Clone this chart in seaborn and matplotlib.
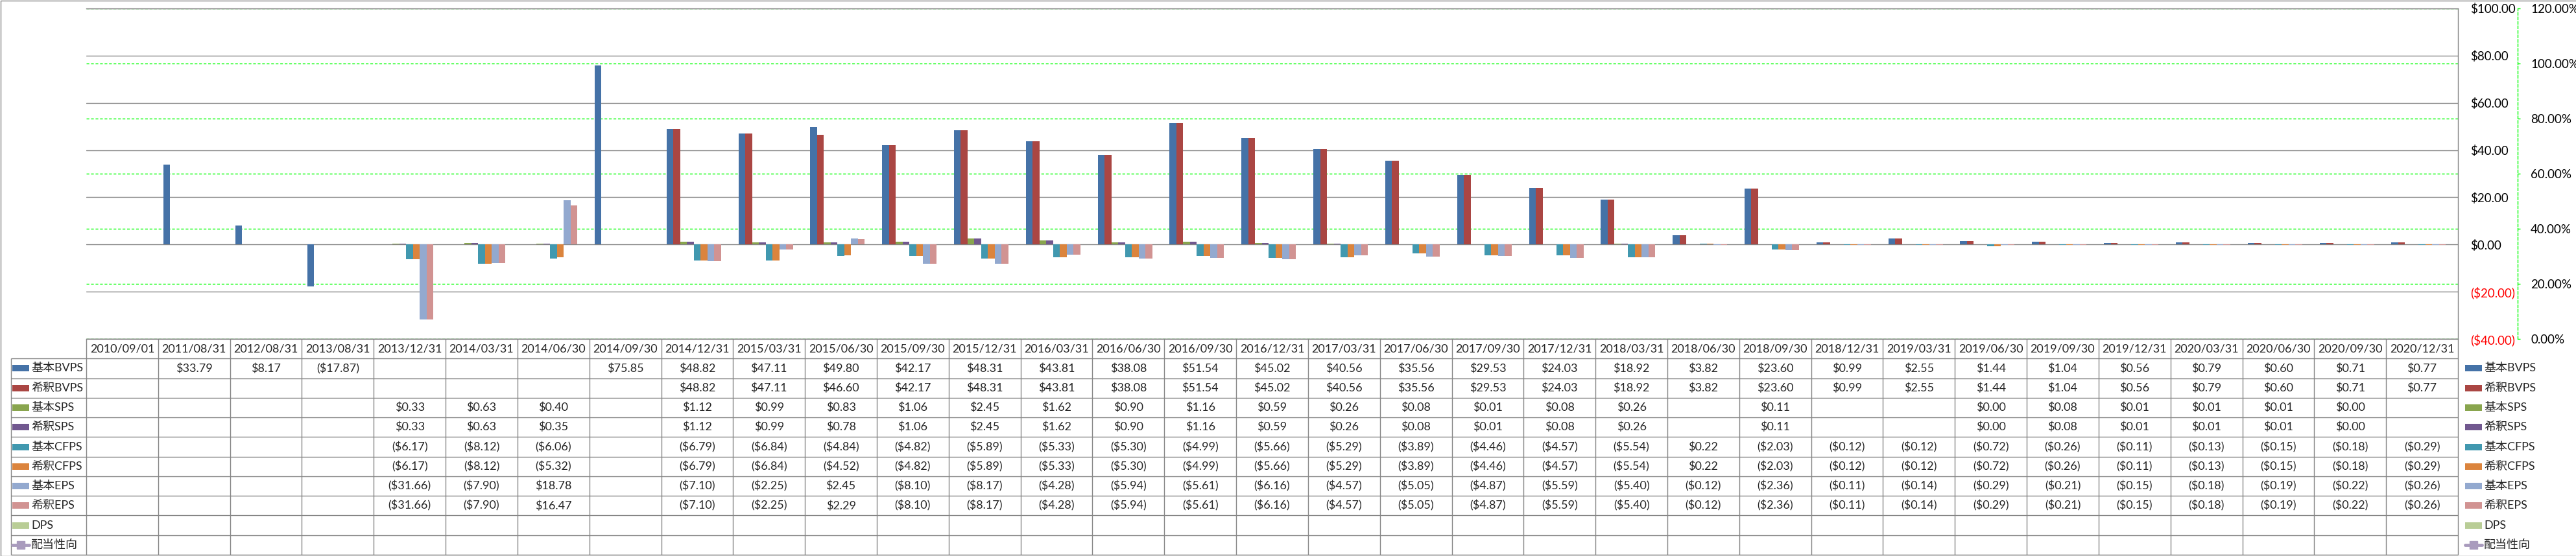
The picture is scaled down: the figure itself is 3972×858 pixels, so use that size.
import numpy as np
import pandas as pd
import seaborn as sns
import matplotlib
matplotlib.use("Agg")
import matplotlib.pyplot as plt
import matplotlib.transforms as mtransforms
from matplotlib.patches import Rectangle
from matplotlib.lines import Line2D

nan = np.nan

# ---------------- data ----------------
dates = ["2010/09/01", "2011/08/31", "2012/08/31", "2013/08/31", "2013/12/31", "2014/03/31",
         "2014/06/30", "2014/09/30", "2014/12/31", "2015/03/31", "2015/06/30", "2015/09/30",
         "2015/12/31", "2016/03/31", "2016/06/30", "2016/09/30", "2016/12/31", "2017/03/31",
         "2017/06/30", "2017/09/30", "2017/12/31", "2018/03/31", "2018/06/30", "2018/09/30",
         "2018/12/31", "2019/03/31", "2019/06/30", "2019/09/30", "2019/12/31", "2020/03/31",
         "2020/06/30", "2020/09/30", "2020/12/31"]

bvps_basic = [nan, 33.79, 8.17, -17.87, nan, nan, nan, 75.85, 48.82, 47.11, 49.80, 42.17,
              48.31, 43.81, 38.08, 51.54, 45.02, 40.56, 35.56, 29.53, 24.03, 18.92, 3.82, 23.60,
              0.99, 2.55, 1.44, 1.04, 0.56, 0.79, 0.60, 0.71, 0.77]
bvps_dil = [nan, nan, nan, nan, nan, nan, nan, nan, 48.82, 47.11, 46.60, 42.17,
            48.31, 43.81, 38.08, 51.54, 45.02, 40.56, 35.56, 29.53, 24.03, 18.92, 3.82, 23.60,
            0.99, 2.55, 1.44, 1.04, 0.56, 0.79, 0.60, 0.71, 0.77]
sps_basic = [nan, nan, nan, nan, 0.33, 0.63, 0.40, nan, 1.12, 0.99, 0.83, 1.06,
             2.45, 1.62, 0.90, 1.16, 0.59, 0.26, 0.08, 0.01, 0.08, 0.26, nan, 0.11,
             nan, nan, 0.00, 0.08, 0.01, 0.01, 0.01, 0.00, nan]
sps_dil = [nan, nan, nan, nan, 0.33, 0.63, 0.35, nan, 1.12, 0.99, 0.78, 1.06,
           2.45, 1.62, 0.90, 1.16, 0.59, 0.26, 0.08, 0.01, 0.08, 0.26, nan, 0.11,
           nan, nan, 0.00, 0.08, 0.01, 0.01, 0.01, 0.00, nan]
cfps_basic = [nan, nan, nan, nan, -6.17, -8.12, -6.06, nan, -6.79, -6.84, -4.84, -4.82,
              -5.89, -5.33, -5.30, -4.99, -5.66, -5.29, -3.89, -4.46, -4.57, -5.54, 0.22, -2.03,
              -0.12, -0.12, -0.72, -0.26, -0.11, -0.13, -0.15, -0.18, -0.29]
cfps_dil = [nan, nan, nan, nan, -6.17, -8.12, -5.32, nan, -6.79, -6.84, -4.52, -4.82,
            -5.89, -5.33, -5.30, -4.99, -5.66, -5.29, -3.89, -4.46, -4.57, -5.54, 0.22, -2.03,
            -0.12, -0.12, -0.72, -0.26, -0.11, -0.13, -0.15, -0.18, -0.29]
eps_basic = [nan, nan, nan, nan, -31.66, -7.90, 18.78, nan, -7.10, -2.25, 2.45, -8.10,
             -8.17, -4.28, -5.94, -5.61, -6.16, -4.57, -5.05, -4.87, -5.59, -5.40, -0.12, -2.36,
             -0.11, -0.14, -0.29, -0.21, -0.15, -0.18, -0.19, -0.22, -0.26]
eps_dil = [nan, nan, nan, nan, -31.66, -7.90, 16.47, nan, -7.10, -2.25, 2.29, -8.10,
           -8.17, -4.28, -5.94, -5.61, -6.16, -4.57, -5.05, -4.87, -5.59, -5.40, -0.12, -2.36,
           -0.11, -0.14, -0.29, -0.21, -0.15, -0.18, -0.19, -0.22, -0.26]
dps = [nan] * len(dates)
payout = [nan] * len(dates)

bar_names = ["基本BVPS", "希釈BVPS", "基本SPS", "希釈SPS", "基本CFPS", "希釈CFPS",
             "基本EPS", "希釈EPS", "DPS"]
bar_values = [bvps_basic, bvps_dil, sps_basic, sps_dil, cfps_basic, cfps_dil,
              eps_basic, eps_dil, dps]
bar_colors = ["#4572A7", "#AA4643", "#89A54E", "#71588F", "#4198AF", "#DB843D",
              "#93A9CF", "#D19392", "#B9CD96"]
line_name = "配当性向"
line_color = "#A99BBD"

y_ticks = [-40, -20, 0, 20, 40, 60, 80, 100]
y2_ticks = [0.0, 0.2, 0.4, 0.6, 0.8, 1.0, 1.2]

# ---------------- style ----------------
sns.set_style("white")
plt.rcParams["font.family"] = ["Lato", "Noto Sans CJK JP", "DejaVu Sans"]

W, H = 3973, 858
PL, PR, PT, PB, TB, TL = 133, 3790, 13, 523, 856, 17
AX2X = 3882
GRAY = "#868686"
FS = 13
AFS = 13.5
n = len(dates)
cat_w = (PR - PL) / n
row_h = (TB - PB) / 11

fig = plt.figure(figsize=(W / 100, H / 100), dpi=100)
pix = mtransforms.Affine2D().scale(1, -1).translate(0, H)

ax = fig.add_axes([PL / W, 1 - PB / H, (PR - PL) / W, (PB - PT) / H])
ax2 = ax.twinx()

rows = []
for name, vals in zip(bar_names, bar_values):
    for d, v in zip(dates, vals):
        rows.append({"date": d, "series": name, "value": v})
df = pd.DataFrame(rows)

sns.barplot(data=df, x="date", y="value", hue="series", order=dates,
            hue_order=bar_names, palette=dict(zip(bar_names, bar_colors)),
            width=0.853, dodge=True, errorbar=None, saturation=1, linewidth=0,
            legend=False, ax=ax)

ax.set_xlim(-0.5, n - 0.5)
ax.set_ylim(y_ticks[0], y_ticks[-1])
ax.set_xlabel("")
ax.set_ylabel("")
ax.tick_params(axis="x", bottom=False, labelbottom=False)

# secondary axis (payout ratio)
ax2.set_ylim(y2_ticks[0], y2_ticks[-1])
ax2.set_yticks(y2_ticks, [f"{v * 100:.2f}%" for v in y2_ticks])
ax2.plot(np.arange(n), payout, color=line_color, lw=3, marker="s")
ax2.grid(True, axis="y", color="#00FF00", linestyle=(0, (3, 2)), lw=1.0)
ax2.grid(False, axis="x")
for s in ["left", "top", "bottom"]:
    ax2.spines[s].set_visible(False)
ax2.spines["right"].set_position(("axes", (AX2X - PL) / (PR - PL)))
ax2.spines["right"].set_color("#00FF00")
ax2.spines["right"].set_linestyle((0, (3, 2)))
ax2.spines["right"].set_linewidth(1.0)
ax2.yaxis.set_ticks_position("right")
ax2.yaxis.set_label_position("right")
ax2.tick_params(axis="y", color="#00FF00", length=3, width=1, direction="out",
                pad=11.5, labelsize=AFS, labelcolor="black", left=False, labelleft=False,
                right=True, labelright=True)

# primary axis ($), labels on the right side of the plot area
ax.yaxis.set_ticks_position("right")
ax.set_yticks(y_ticks, [f"(${-v:.2f})" if v < 0 else f"${v:.2f}" for v in y_ticks])
ax.tick_params(axis="y", length=0, pad=13.7, labelsize=AFS, right=True, left=False,
               labelright=True, labelleft=False)
for lab, v in zip(ax.get_yticklabels(), y_ticks):
    lab.set_color("#FF0000" if v < 0 else "black")
ax.grid(True, axis="y", color=GRAY, lw=1.0)
ax.grid(False, axis="x")
ax.set_axisbelow(True)
ax.spines["left"].set_visible(False)
for s in ["top", "bottom", "right"]:
    ax.spines[s].set_color(GRAY)
    ax.spines[s].set_linewidth(1.0)
ax.set_zorder(ax2.get_zorder() + 1)
ax.patch.set_visible(False)

# ---------------- data table ----------------
tax = fig.add_axes([TL / W, 1 - TB / H, (PR - TL) / W, (TB - PB) / H])
x_left = -0.5 - (PL - TL) / cat_w
tax.set_xlim(x_left, n - 0.5)
tax.set_ylim(11, 0)
tax.axis("off")
tax.hlines([0], -0.5, n - 0.5, color=GRAY, lw=1.0, clip_on=False)
tax.hlines(np.arange(1, 12), x_left, n - 0.5, color=GRAY, lw=1.0, clip_on=False)
tax.vlines(np.arange(n + 1) - 0.5, 0, 11, color=GRAY, lw=1.0, clip_on=False)
tax.vlines([x_left], 1, 11, color=GRAY, lw=1.0, clip_on=False)


def fmt(v):
    if v is None or (isinstance(v, float) and np.isnan(v)):
        return ""
    return f"(${-v:.2f})" if v < 0 else f"${v:.2f}"


for i, d in enumerate(dates):
    tax.text(i, 0.5, d, ha="center", va="center", fontsize=FS)
table_rows = bar_values + [payout]
for r, vals in enumerate(table_rows, start=1):
    for i, v in enumerate(vals):
        s = fmt(v)
        if s:
            tax.text(i, r + 0.5, s, ha="center", va="center", fontsize=FS)

# row labels with keys, and right-hand legend
all_names = bar_names + [line_name]
all_colors = bar_colors + [line_color]
for r, (name, col) in enumerate(zip(all_names, all_colors), start=1):
    yc = PB + (r + 0.5) * row_h
    for kx, tx in [(19, 48), (3801, 3830)]:
        if name == line_name:
            fig.add_artist(Line2D([kx, kx + 26], [yc, yc], transform=pix, color=col,
                                  lw=3.5, solid_capstyle="round"))
            fig.add_artist(Line2D([kx + 13], [yc], transform=pix, color=col,
                                  marker="s", markersize=9, lw=0))
        else:
            fig.add_artist(Rectangle((kx, yc - 5), 26, 10, transform=pix,
                                     facecolor=col, edgecolor="none"))
        fig.text(tx, yc, name, transform=pix, ha="left", va="center", fontsize=FS)

# outer chart frame
fig.add_artist(Rectangle((0.5, 0.5), W - 1, H - 1, transform=pix, facecolor="none",
                         edgecolor=GRAY, lw=1.0))

fig.savefig("out.png", dpi=100)
